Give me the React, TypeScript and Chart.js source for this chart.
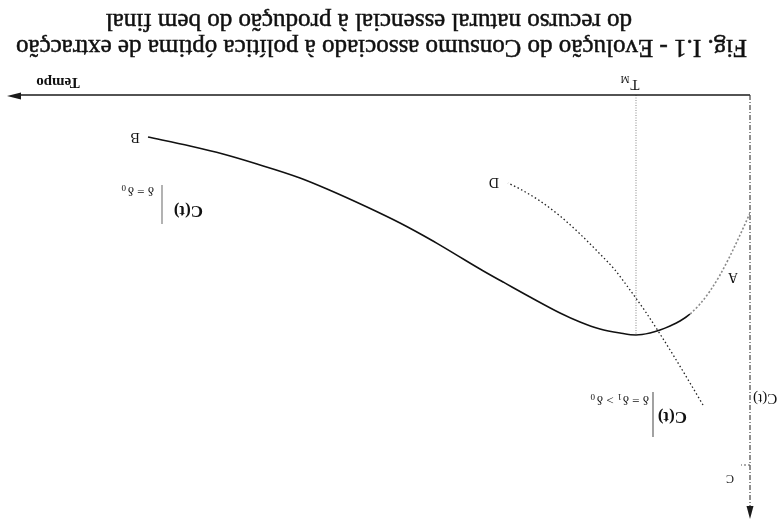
import React, { useEffect, useRef } from "react";
import { Chart, registerables } from "chart.js";

Chart.register(...registerables);

// Time (Tempo) and consumption C(t), arbitrary units
const T_MAX = 7.45;
const C_MAX = 4.25;
const T_M = 1.14;
const C_PEAK = 2.4;

// Optimal consumption path for δ = δ0 (from A through the peak at T_M down to B)
const tDelta0 = [0, 0.1, 0.2, 0.3, 0.4, 0.5, 0.6, 0.7, 0.8, 0.9, 1.0, 1.14, 1.3, 1.5, 1.7, 1.9, 2.2, 2.47, 2.7, 3.17, 3.5, 3.83, 4.23, 4.5, 4.93, 5.27, 5.6, 6.02];
const cDelta0 = [1.18, 1.4, 1.61, 1.8, 1.96, 2.09, 2.19, 2.26, 2.31, 2.35, 2.38, 2.4, 2.38, 2.34, 2.27, 2.18, 2.02, 1.87, 1.74, 1.46, 1.28, 1.12, 0.94, 0.83, 0.69, 0.59, 0.51, 0.42];

// Consumption path for δ = δ1 > δ0 (ends at D)
const tDelta1 = [0.47, 0.6, 0.75, 0.9, 1.05, 1.2, 1.35, 1.5, 1.7, 1.9, 2.1, 2.3, 2.42];
const cDelta1 = [3.1, 2.88, 2.63, 2.39, 2.16, 1.95, 1.75, 1.59, 1.39, 1.21, 1.06, 0.94, 0.88];

const TITLE_LINES = [
  "Fig. I.1 - Evolução do Consumo associado à política óptima de extracção",
  "do recurso natural essencial à produção do bem final",
];

const SERIF = '"Liberation Serif", "Times New Roman", serif';
const INK = "#111";

const toPoints = (xs: number[], ys: number[]) => xs.map((x, i) => ({ x, y: ys[i] }));

const figurePlugin = {
  id: "figureDecor",
  afterDraw(chart: any) {
    const { ctx, scales } = chart;
    const xs = scales.x;
    const ys = scales.y;
    const px = (t: number) => xs.getPixelForValue(t);
    const py = (c: number) => ys.getPixelForValue(c);

    const text = (
      s: string,
      t: number,
      c: number,
      size: number,
      weight = "normal",
      align: CanvasTextAlign = "center",
      dx = 0,
      dy = 0
    ) => {
      ctx.font = `${weight} ${size}px ${SERIF}`;
      ctx.textAlign = align;
      ctx.textBaseline = "middle";
      ctx.fillStyle = INK;
      ctx.fillText(s, px(t) + dx, py(c) + dy);
      return ctx.measureText(s).width;
    };

    ctx.save();

    const x0 = px(0);
    const y0 = py(0);
    const xEnd = px(T_MAX) - 2;
    const yEnd = py(C_MAX) + 1;

    // Time axis with arrow
    ctx.strokeStyle = "#1a1a1a";
    ctx.lineWidth = 1.5;
    ctx.setLineDash([]);
    ctx.beginPath();
    ctx.moveTo(x0, y0);
    ctx.lineTo(xEnd - 10, y0);
    ctx.stroke();
    ctx.fillStyle = "#1a1a1a";
    ctx.beginPath();
    ctx.moveTo(xEnd, y0 - 1);
    ctx.lineTo(xEnd - 14, y0 - 4.5);
    ctx.lineTo(xEnd - 14, y0 + 2.5);
    ctx.closePath();
    ctx.fill();

    // Consumption axis (dash-dot) with arrow
    ctx.strokeStyle = "#333";
    ctx.lineWidth = 1.1;
    ctx.setLineDash([5, 2, 1, 2]);
    ctx.beginPath();
    ctx.moveTo(x0, y0);
    ctx.lineTo(x0, yEnd + 10);
    ctx.stroke();
    ctx.setLineDash([]);
    ctx.fillStyle = "#1a1a1a";
    ctx.beginPath();
    ctx.moveTo(x0, yEnd);
    ctx.lineTo(x0 - 3.5, yEnd + 13);
    ctx.lineTo(x0 + 3.5, yEnd + 13);
    ctx.closePath();
    ctx.fill();

    // small level mark next to C
    ctx.strokeStyle = "#555";
    ctx.lineWidth = 1;
    ctx.setLineDash([2, 2]);
    ctx.beginPath();
    ctx.moveTo(x0, py(3.7));
    ctx.lineTo(px(0.09), py(3.7));
    ctx.stroke();
    ctx.setLineDash([]);

    // Axis labels
    text("C(t)", -0.03, 3.03, 15, "normal", "right");
    text("C", 0.2, 3.83, 12);
    text("Tempo", 6.92, -0.13, 15, "bold");
    const wT = text("T", T_M + 0.01, -0.11, 15);
    ctx.font = `normal 10px ${SERIF}`;
    ctx.textAlign = "left";
    ctx.fillText("M", px(T_M + 0.01) + wT / 2 + 1, py(-0.11) + 5);

    // Curve end labels
    text("A", 0.17, 1.82, 14);
    text("B", 6.15, 0.42, 14);
    text("D", 2.56, 0.87, 14);

    // C(t)|δ=δ0 label
    text("C(t)", 5.47, 1.15, 17, "bold", "left");
    ctx.strokeStyle = "#666";
    ctx.lineWidth = 1;
    ctx.beginPath();
    ctx.moveTo(px(5.88), py(0.9));
    ctx.lineTo(px(5.88), py(1.29));
    ctx.stroke();
    let w = text("δ = δ", 5.96, 0.95, 13, "normal", "left");
    ctx.font = `normal 9px ${SERIF}`;
    ctx.textAlign = "left";
    ctx.fillText("0", px(5.96) + w + 2, py(0.95) + 3);

    // C(t)|δ=δ1>δ0 label
    text("C(t)", 0.63, 3.21, 17, "bold", "left");
    ctx.strokeStyle = "#444";
    ctx.beginPath();
    ctx.moveTo(px(0.97), py(2.97));
    ctx.lineTo(px(0.97), py(3.42));
    ctx.stroke();
    w = text("δ = δ", 1.01, 3.04, 13, "normal", "left");
    ctx.font = `normal 9px ${SERIF}`;
    ctx.fillText("1", px(1.01) + w + 1, py(3.04) + 3);
    const w2 = text(" > δ", 1.01, 3.04, 13, "normal", "left", w + 6);
    ctx.font = `normal 9px ${SERIF}`;
    ctx.textAlign = "left";
    ctx.fillText("0", px(1.01) + w + 6 + w2 + 2, py(3.04) + 3);

    // Figure caption (regular weight, slightly heavier stroke as in print)
    ctx.fillStyle = INK;
    ctx.strokeStyle = INK;
    ctx.lineWidth = 0.5;
    ctx.textAlign = "left";
    ctx.textBaseline = "alphabetic";
    ctx.font = `normal 25px ${SERIF}`;
    ctx.fillText(TITLE_LINES[0], 33, chart.height - 40);
    ctx.strokeText(TITLE_LINES[0], 33, chart.height - 40);
    ctx.fillText(TITLE_LINES[1], 148, chart.height - 14);
    ctx.strokeText(TITLE_LINES[1], 148, chart.height - 14);

    ctx.restore();
  },
};

export default function App() {
  const canvasRef = useRef<HTMLCanvasElement>(null);

  useEffect(() => {
    const canvas = canvasRef.current;
    if (!canvas) return;
    const lightNearA = (ctx: any) => ctx.p1.parsed.x <= 0.62;
    const chart = new Chart(canvas, {
      type: "scatter",
      data: {
        datasets: [
          {
            label: "δ = δ0",
            data: toPoints(tDelta0, cDelta0),
            showLine: true,
            borderColor: "#111",
            borderWidth: 1.6,
            tension: 0.4,
            cubicInterpolationMode: "monotone",
            pointRadius: 0,
            segment: {
              borderColor: (ctx: any) => (lightNearA(ctx) ? "#8a8a8a" : undefined),
              borderDash: (ctx: any) => (lightNearA(ctx) ? [2, 2] : undefined),
            },
          },
          {
            label: "δ = δ1 > δ0",
            data: toPoints(tDelta1, cDelta1),
            showLine: true,
            borderColor: "#222",
            borderWidth: 1.3,
            borderDash: [1.5, 2.5],
            tension: 0.4,
            cubicInterpolationMode: "monotone",
            pointRadius: 0,
          },
          {
            label: "T_M",
            data: [
              { x: T_M, y: 0 },
              { x: T_M, y: C_PEAK },
            ],
            showLine: true,
            borderColor: "#888",
            borderWidth: 1,
            borderDash: [1, 1.5],
            tension: 0,
            pointRadius: 0,
          },
        ],
      },
      options: {
        responsive: false,
        animation: false,
        devicePixelRatio: 1,
        events: [],
        layout: { padding: { left: 30, right: 5, top: 1, bottom: 95 } },
        plugins: {
          legend: { display: false },
          tooltip: { enabled: false },
          title: { display: false },
        },
        scales: {
          x: { type: "linear", min: 0, max: T_MAX, display: false },
          y: { type: "linear", min: 0, max: C_MAX, display: false },
        },
      },
      plugins: [figurePlugin],
    });
    return () => chart.destroy();
  }, []);

  return (
    <div
      style={{
        position: "fixed",
        left: 0,
        top: 0,
        width: 780,
        height: 521,
        background: "#fff",
        transform: "rotate(180deg)",
      }}
    >
      <canvas ref={canvasRef} width={780} height={521} style={{ display: "block" }} />
    </div>
  );
}
